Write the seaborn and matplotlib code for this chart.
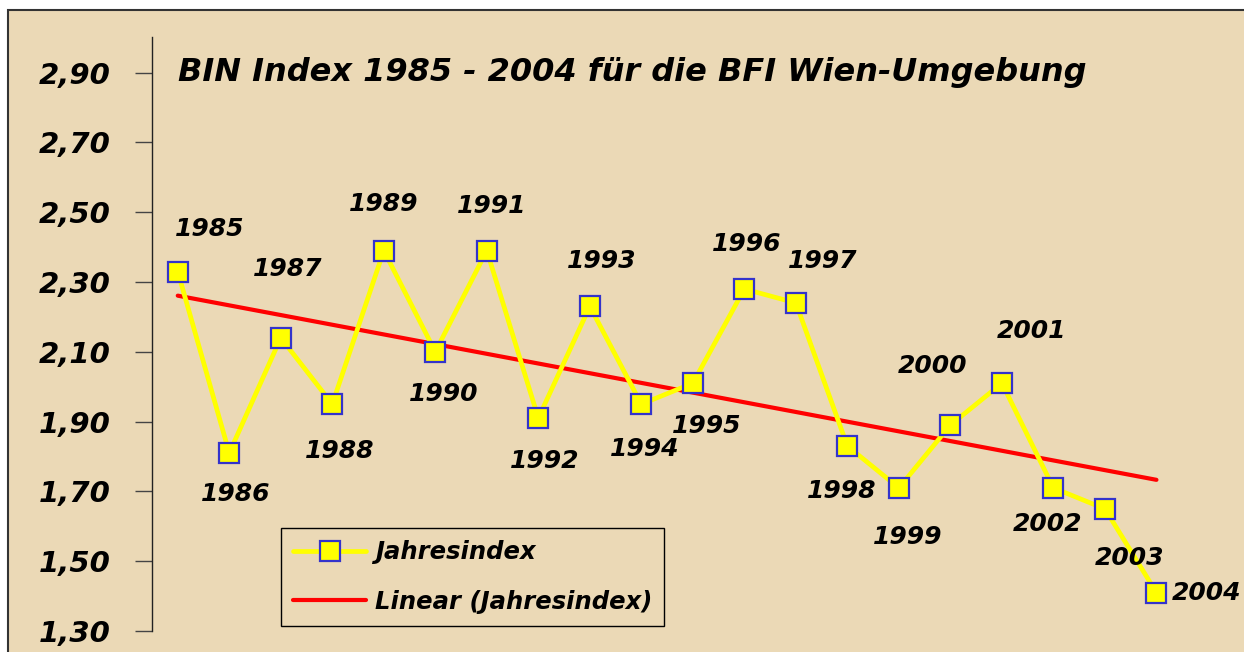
import numpy as np
import pandas as pd
import matplotlib
matplotlib.use("Agg")
import matplotlib.pyplot as plt
import matplotlib.patches as mpatches
from matplotlib.ticker import FuncFormatter
import seaborn as sns

# Daten
jahre = [1985, 1986, 1987, 1988, 1989, 1990, 1991, 1992, 1993, 1994,
         1995, 1996, 1997, 1998, 1999, 2000, 2001, 2002, 2003, 2004]
jahresindex = [2.33, 1.81, 2.14, 1.95, 2.39, 2.10, 2.39, 1.91, 2.23, 1.95,
               2.01, 2.28, 2.24, 1.83, 1.71, 1.89, 2.01, 1.71, 1.65, 1.41]
y_ticks = [1.30, 1.50, 1.70, 1.90, 2.10, 2.30, 2.50, 2.70, 2.90]

titel = "BIN Index 1985 - 2004 für die BFI Wien-Umgebung"

# Beschriftungs-Versatz (Pixel, relativ zum Marker)
label_offsets = [(32, 43), (6, -41), (7, 69), (7, -47), (0, 47), (8, -42),
                 (5, 45), (6, -43), (12, 45), (3, -45), (14, -43), (2, 45),
                 (27, 42), (-6, -45), (9, -49), (-18, 59), (30, 52), (-6, -36),
                 (25, -49), (50, 0)]

df = pd.DataFrame({"Jahr": jahre, "Jahresindex": jahresindex})

sns.set_style("white")
plt.rcParams["font.family"] = ["DejaVu Sans"]
plt.rcParams["font.weight"] = "bold"
plt.rcParams["font.style"] = "italic"
plt.rcParams["text.color"] = "black"
plt.rcParams["ytick.color"] = "black"
plt.rcParams["ytick.labelcolor"] = "black"

W, H = 1244, 652
fig = plt.figure(figsize=(W / 100, H / 100), dpi=100, facecolor="white")

# Pergament-Hintergrund mit Rahmen
bg = mpatches.Rectangle((8 / W, -0.1), 1.2, (H - 10) / H + 0.1,
                        transform=fig.transFigure, facecolor="#EBD9B6",
                        edgecolor="#333333", linewidth=1.5, zorder=-10)
fig.patches.append(bg)

ax = fig.add_axes([152 / W, (H - 631) / H, (W - 152) / W, (631 - 37) / H])
ax.set_facecolor("none")

# Trendlinie
sns.regplot(data=df, x="Jahr", y="Jahresindex", scatter=False, ci=None,
            color="#FF0000", line_kws={"linewidth": 3, "solid_capstyle": "round"},
            label="Linear (Jahresindex)", ax=ax)

# Jahreswerte
sns.lineplot(data=df, x="Jahr", y="Jahresindex", color="#FFFF00", linewidth=3.4,
             marker="s", markersize=15, markerfacecolor="#FFFF00",
             markeredgecolor="#3333CC", markeredgewidth=1.6,
             label="Jahresindex", ax=ax, zorder=3)

for j, v, (dx, dy) in zip(jahre, jahresindex, label_offsets):
    ax.annotate(str(j), (j, v), xytext=(dx, dy), textcoords="offset pixels",
                ha="center", va="center", fontsize=18, fontweight="bold",
                fontstyle="italic", color="black", annotation_clip=False)

ax.set_ylim(1.30, 3.002)
ax.set_xlim(1984.5, 2005.7)
ax.set_yticks(y_ticks)
ax.yaxis.set_major_formatter(FuncFormatter(lambda v, p: f"{v:.2f}".replace(".", ",")))
ax.tick_params(axis="y", which="major", direction="out", length=12, width=1,
               color="#444444", labelcolor="black", labelsize=21, pad=18, left=True)
ax.set_xticks([])
ax.set_xlabel("")
ax.set_ylabel("")
for s in ["top", "right", "bottom"]:
    ax.spines[s].set_visible(False)
ax.spines["left"].set_color("#222222")
ax.spines["left"].set_linewidth(1)

fig.text(178 / W, (H - 73) / H, titel, fontsize=23, fontweight="bold",
         fontstyle="italic", ha="left", va="center", color="black")

handles, labels = ax.get_legend_handles_labels()
order = [labels.index("Jahresindex"), labels.index("Linear (Jahresindex)")]
leg = ax.legend([handles[i] for i in order], [labels[i] for i in order],
                loc="lower left",
                bbox_to_anchor=((281 - 152) / (W - 152), (631 - 626) / (631 - 37)),
                frameon=True, fancybox=False, framealpha=1, edgecolor="black",
                fontsize=17.5, handlelength=3.0, borderpad=0.5, labelspacing=1.05,
                borderaxespad=0, handletextpad=0.35)
leg.get_frame().set_linewidth(1)
leg.get_frame().set_facecolor("none")
for t in leg.get_texts():
    t.set_fontweight("bold")
    t.set_fontstyle("italic")
    t.set_color("black")

fig.savefig("out.png", dpi=100, facecolor="white")
